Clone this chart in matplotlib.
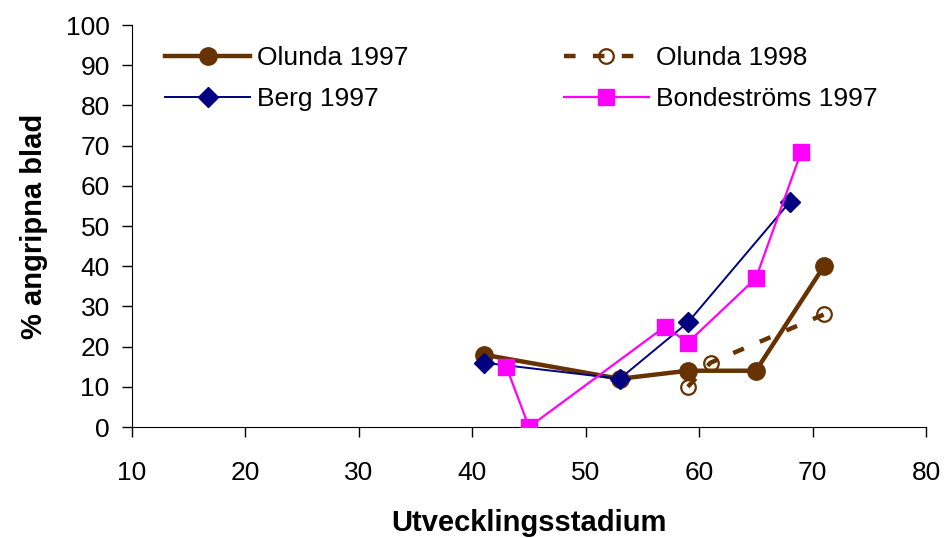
import matplotlib
matplotlib.use("Agg")
import matplotlib.pyplot as plt

plt.rcParams['font.family'] = ['Liberation Sans', 'DejaVu Sans']

# Series data
olunda97_x = [41, 53, 59, 65, 71]
olunda97_y = [18, 12, 14, 14, 40]
olunda98_x = [59, 61, 71]
olunda98_y = [10, 16, 28]
berg97_x = [41, 53, 59, 68]
berg97_y = [16, 12, 26, 56]
bonde97_x = [43, 45, 57, 59, 65, 69]
bonde97_y = [15, 0, 25, 21, 37, 68.5]

x_ticks = [10, 20, 30, 40, 50, 60, 70, 80]
y_ticks = [0, 10, 20, 30, 40, 50, 60, 70, 80, 90, 100]

brown = '#663300'
navy = '#000080'
magenta = '#FF00FF'

fig = plt.figure(figsize=(9.44, 5.38), dpi=100)
ax = fig.add_axes([0.1398, 0.2063, 0.8412, 0.7472])

h_o97, = ax.plot(olunda97_x, olunda97_y, color=brown, lw=3.2, marker='o', ms=12.5,
                 label='Olunda 1997', zorder=3)
h_o98, = ax.plot(olunda98_x, olunda98_y, color=brown, lw=3.2, ls=(0, (2.6, 3.9)),
                 dash_capstyle='butt', marker='o', ms=10.5, mfc='none', mec=brown,
                 mew=1.6, label='Olunda 1998', zorder=3)
h_berg, = ax.plot(berg97_x, berg97_y, color=navy, lw=1.4, marker='D', ms=10,
                  label='Berg 1997', zorder=4)
h_bonde, = ax.plot(bonde97_x, bonde97_y, color=magenta, lw=1.6, marker='s', ms=12,
                   label='Bondeströms 1997', zorder=5)

ax.set_xlim(10, 80)
ax.set_ylim(0, 100)
ax.set_xticks(x_ticks)
ax.set_yticks(y_ticks)
ax.spines['top'].set_visible(False)
ax.spines['right'].set_visible(False)
ax.tick_params(axis='both', labelsize=19, length=7, width=1, direction='out')
ax.tick_params(axis='x', pad=17.5)
ax.tick_params(axis='y', pad=9)

ax.set_xlabel('Utvecklingsstadium', fontsize=21, fontweight='bold', labelpad=17)
ax.set_ylabel('% angripna blad', fontsize=21, fontweight='bold', labelpad=13)

# column-major fill: col 1 = Olunda 1997 / Berg 1997, col 2 = Olunda 1998 / Bondeströms 1997
handles = [h_o97, h_berg, h_o98, h_bonde]
labels = [h.get_label() for h in handles]
leg = ax.legend(handles, labels, loc='upper left', bbox_to_anchor=(0.042, 0.948),
                ncol=2, frameon=False, fontsize=19, handlelength=3.2,
                columnspacing=5.9, labelspacing=0.65, handletextpad=0.27,
                borderpad=0, borderaxespad=0)

fig.savefig('out.png', dpi=100)
